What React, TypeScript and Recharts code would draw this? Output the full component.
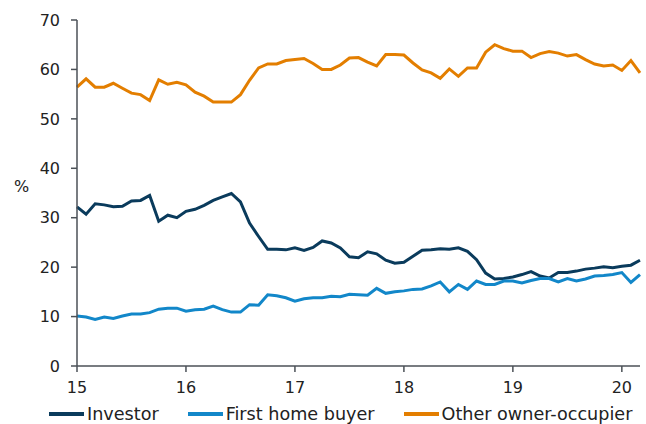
import { LineChart, Line, XAxis, YAxis } from "recharts";

const monthIdx = Array.from({ length: 63 }, (_, i) => i);

const investor = [
  32.2, 30.7, 32.8, 32.6, 32.2, 32.3, 33.4, 33.5, 34.5, 29.3, 30.5, 30.0,
  31.3, 31.7, 32.5, 33.5, 34.2, 34.9, 33.2, 28.9, 26.2, 23.6, 23.6, 23.5,
  23.9, 23.4, 24.0, 25.3, 24.9, 23.9, 22.1, 21.9, 23.1, 22.7, 21.4, 20.8,
  21.0, 22.2, 23.4, 23.5, 23.7, 23.6, 23.9, 23.2, 21.5, 18.8, 17.6, 17.7,
  18.0, 18.5, 19.1, 18.2, 17.8, 18.9, 18.9, 19.2, 19.6, 19.8, 20.1, 19.9,
  20.2, 20.4, 21.4,
];

const firstHome = [
  10.1, 9.9, 9.4, 9.9, 9.6, 10.1, 10.5, 10.5, 10.8, 11.5, 11.7, 11.7,
  11.1, 11.4, 11.5, 12.1, 11.4, 10.9, 10.9, 12.4, 12.3, 14.4, 14.2, 13.8,
  13.1, 13.6, 13.8, 13.8, 14.1, 14.0, 14.5, 14.4, 14.3, 15.7, 14.7, 15.0,
  15.2, 15.5, 15.6, 16.2, 17.0, 15.0, 16.5, 15.5, 17.2, 16.5, 16.5, 17.2,
  17.2, 16.8, 17.3, 17.7, 17.7, 17.0, 17.7, 17.2, 17.6, 18.2, 18.3, 18.5,
  18.9, 16.9, 18.5,
];

const otherOwner = [
  56.4, 58.1, 56.4, 56.4, 57.2, 56.2, 55.2, 54.9, 53.7, 57.9, 57.0, 57.4,
  56.9, 55.4, 54.6, 53.4, 53.4, 53.4, 54.9, 57.8, 60.3, 61.1, 61.1, 61.8,
  62.0, 62.2, 61.2, 60.0, 60.0, 60.9, 62.3, 62.4, 61.5, 60.7, 63.0, 63.0,
  62.9, 61.3, 59.9, 59.3, 58.2, 60.1, 58.6, 60.3, 60.3, 63.5, 65.0, 64.2,
  63.7, 63.7, 62.4, 63.2, 63.6, 63.3, 62.7, 63.0, 62.0, 61.1, 60.7, 60.9,
  59.8, 61.8, 59.3,
];

// x ticks sit on each January, labelled by two-digit year
const xTicks = [0, 12, 24, 36, 48, 60];
const xTickLabels = ["15", "16", "17", "18", "19", "20"];
const yTicks = [0, 10, 20, 30, 40, 50, 60, 70];

const series = [
  { key: "investor", name: "Investor", color: "#0a3b5c" },
  { key: "firstHome", name: "First home buyer", color: "#1287c9" },
  { key: "otherOwner", name: "Other owner-occupier", color: "#e37e00" },
];

const data = monthIdx.map((m, i) => ({
  m,
  investor: investor[i],
  firstHome: firstHome[i],
  otherOwner: otherOwner[i],
}));

const FONT = "'DejaVu Sans', Verdana, sans-serif";
const tick = { fontSize: 16, fill: "#222", fontFamily: FONT };
const axisColor = "#4b5157";

export default function App() {
  return (
    <div style={{ position: "absolute", left: 0, top: 0, width: 646, height: 424, background: "#fff" }}>
      <LineChart width={646} height={424} data={data} margin={{ top: 20, right: 6, left: 0, bottom: 0 }}>
        <XAxis
          dataKey="m"
          type="number"
          domain={[0, 62]}
          ticks={xTicks}
          tickFormatter={(v: number) => xTickLabels[xTicks.indexOf(v)]}
          tick={tick}
          tickSize={6}
          tickMargin={10}
          height={58}
          stroke={axisColor}
          strokeWidth={1.5}
        />
        <YAxis
          domain={[0, 70]}
          ticks={yTicks}
          tick={tick}
          tickSize={6}
          tickMargin={11}
          width={77}
          stroke={axisColor}
          strokeWidth={1.5}
          label={{ value: "%", position: "insideLeft", offset: 14, dy: -7, style: { fontSize: 16, fill: "#222", fontFamily: FONT } }}
        />
        {series.map((s) => (
          <Line
            key={s.key}
            dataKey={s.key}
            name={s.name}
            stroke={s.color}
            strokeWidth={3}
            dot={false}
            type="linear"
            isAnimationActive={false}
          />
        ))}
      </LineChart>
      <div
        style={{
          position: "absolute",
          left: 49,
          top: 403,
          display: "flex",
          alignItems: "center",
          fontFamily: FONT,
          fontSize: 17.6,
          color: "#222",
          lineHeight: "22px",
        }}
      >
        {series.map((s, i) => (
          <div key={s.key} style={{ display: "flex", alignItems: "center", marginLeft: i === 0 ? 0 : 29 }}>
            <span style={{ display: "inline-block", width: 35, height: 3.5, background: s.color, marginRight: 3 }} />
            <span>{s.name}</span>
          </div>
        ))}
      </div>
    </div>
  );
}
